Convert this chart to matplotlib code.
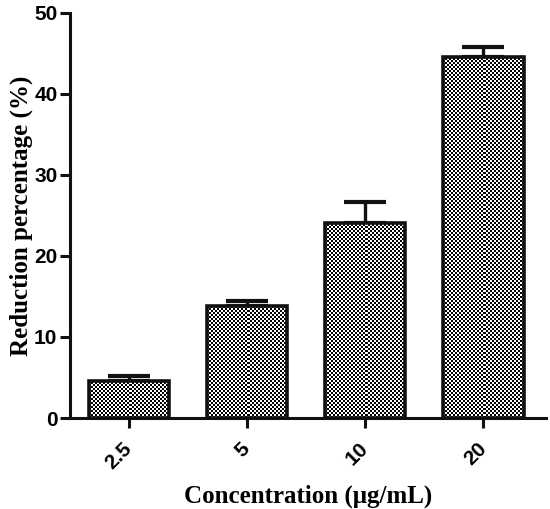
import numpy as np
import matplotlib
matplotlib.use("Agg")
import matplotlib.pyplot as plt

# data
concentrations = ["2.5", "5", "10", "20"]
reduction = [4.6, 13.8, 24.1, 44.6]
error_up = [0.6, 0.7, 2.6, 1.2]

fig = plt.figure(figsize=(5.5, 5.09), dpi=100)
ax = fig.add_axes([70 / 550, 1 - 418 / 509, (546 - 70) / 550, (418 - 13) / 509])

x = np.arange(len(concentrations))
bars = ax.bar(x, reduction, width=0.68, facecolor='none', edgecolor='#111111',
              linewidth=2.6, zorder=3)
ax.errorbar(x, reduction, yerr=[np.zeros(len(x)), error_up], fmt='none',
            ecolor='#111111', elinewidth=2.4, capsize=15, capthick=3.0, zorder=1)

ax.set_xlim(-0.5, 3.53)
ax.set_ylim(0, 50)

# checkered fill, roughly 2 px cells, clipped to each bar
fig.canvas.draw()
for b in bars:
    x0, y0 = b.get_x(), b.get_y()
    w, h = b.get_width(), b.get_height()
    p0 = ax.transData.transform((x0, y0))
    p1 = ax.transData.transform((x0 + w, y0 + h))
    nc = max(int(round(abs(p1[0] - p0[0]) / 2.0)), 1)
    nr = max(int(round(abs(p1[1] - p0[1]) / 2.0)), 1)
    ii, jj = np.indices((nr, nc))
    tex = ((ii + jj) % 2).astype(float)
    im = ax.imshow(tex, cmap='gray', vmin=0, vmax=1, extent=(x0, x0 + w, y0, y0 + h),
                   interpolation='nearest', aspect='auto', zorder=2)
    im.set_clip_path(b)

ax.set_xlim(-0.5, 3.53)
ax.set_ylim(0, 50)
ax.set_yticks([0, 10, 20, 30, 40, 50])
ax.set_xticks(x)
ax.set_xticklabels(concentrations, rotation=45, ha='right', va='center',
                   rotation_mode='anchor')

for s in ['top', 'right']:
    ax.spines[s].set_visible(False)
for s in ['left', 'bottom']:
    ax.spines[s].set_linewidth(2.2)
    ax.spines[s].set_color('#111111')

ax.tick_params(width=2.2, length=7, color='#111111')
ax.tick_params(axis='x', pad=13)
ax.tick_params(axis='y', pad=2)
for lab in ax.get_xticklabels() + ax.get_yticklabels():
    lab.set_fontfamily('Liberation Sans')
    lab.set_fontweight('bold')
    lab.set_fontsize(15)
for lab in ax.get_xticklabels():
    lab.set_x(lab.get_position()[0])

ax.set_xlabel("Concentration (μg/mL)", fontfamily='Liberation Serif',
              fontweight='bold', fontsize=18, labelpad=8)
ax.set_ylabel("Reduction percentage (%)", fontfamily='Liberation Serif',
              fontweight='bold', fontsize=18, labelpad=1)

fig.savefig("out.png", dpi=100)
